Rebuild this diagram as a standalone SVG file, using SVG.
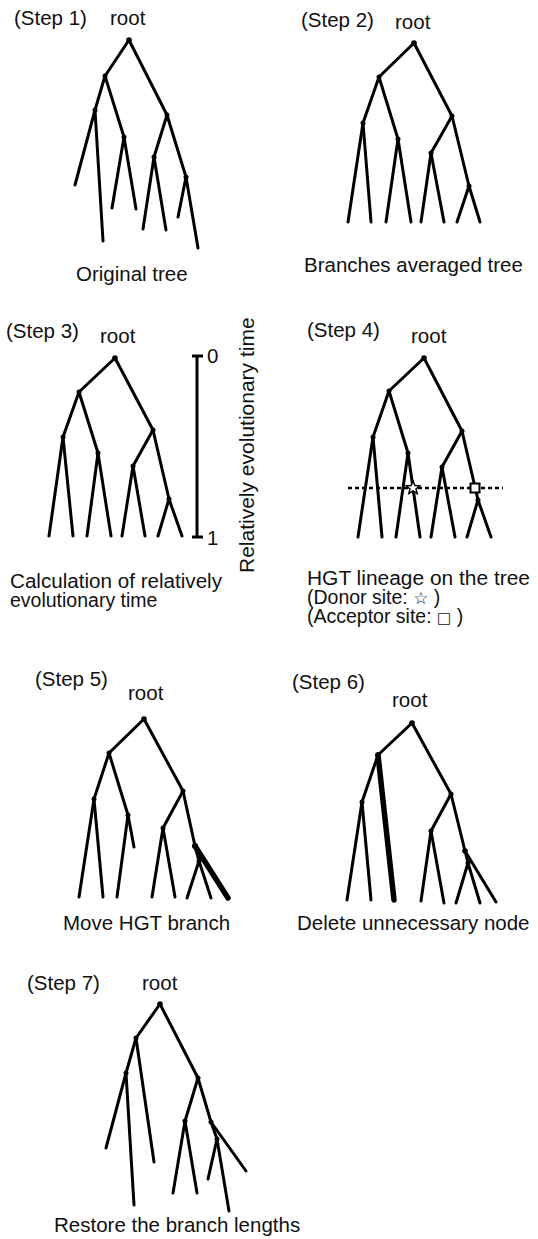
<svg xmlns="http://www.w3.org/2000/svg" width="538" height="1239" viewBox="0 0 538 1239">
<style>
text{font-family:"Liberation Sans",Arial,sans-serif;font-size:20.5px;fill:#111}
.cap{font-size:19.5px}
.e line{stroke:#000;stroke-width:3;stroke-linecap:round}
.thick{stroke-width:5.5 !important}
.n circle{fill:#000}
</style>
<rect width="538" height="1239" fill="#fff"/>

<g id="step1">
<text x="14" y="25">(Step 1)</text>
<text x="110" y="25">root</text>
<text x="76" y="281">Original tree</text>
<g class="e" id="step1-edges">
<line x1="129" y1="40" x2="105" y2="76"/><line x1="129" y1="40" x2="167" y2="115"/>
<line x1="105" y1="76" x2="95" y2="110"/><line x1="105" y1="76" x2="124" y2="137"/>
<line x1="95" y1="110" x2="75" y2="185"/><line x1="95" y1="110" x2="103" y2="241"/>
<line x1="124" y1="137" x2="112" y2="208"/><line x1="124" y1="137" x2="136" y2="209"/>
<line x1="167" y1="115" x2="154" y2="157"/><line x1="167" y1="115" x2="186" y2="177"/>
<line x1="154" y1="157" x2="143" y2="229"/><line x1="154" y1="157" x2="166" y2="230"/>
<line x1="186" y1="177" x2="178" y2="217"/><line x1="186" y1="177" x2="198" y2="248"/>
</g>
<g class="n">
<g id="s1-root"><circle cx="129" cy="40" r="2.8"/></g>
<g id="s1-a"><circle cx="105" cy="76" r="2.5"/></g>
<g id="s1-b"><circle cx="167" cy="115" r="2.5"/></g>
<g id="s1-aa"><circle cx="95" cy="110" r="2.5"/></g>
<g id="s1-ab"><circle cx="124" cy="137" r="2.5"/></g>
<g id="s1-ba"><circle cx="154" cy="157" r="2.5"/></g>
<g id="s1-bb"><circle cx="186" cy="177" r="2.5"/></g>
</g>
</g>

<g id="step2">
<text x="301" y="27">(Step 2)</text>
<text x="395" y="29">root</text>
<text x="304" y="272">Branches averaged tree</text>
<g class="e" id="step2-edges">
<line x1="414" y1="43" x2="379" y2="77"/><line x1="414" y1="43" x2="452" y2="116"/>
<line x1="379" y1="77" x2="363" y2="123"/><line x1="379" y1="77" x2="398" y2="139"/>
<line x1="363" y1="123" x2="348" y2="222"/><line x1="363" y1="123" x2="371" y2="222"/>
<line x1="398" y1="139" x2="386" y2="222"/><line x1="398" y1="139" x2="411" y2="222"/>
<line x1="452" y1="116" x2="431" y2="153"/><line x1="452" y1="116" x2="469" y2="186"/>
<line x1="431" y1="153" x2="421" y2="222"/><line x1="431" y1="153" x2="444" y2="222"/>
<line x1="469" y1="186" x2="457" y2="222"/><line x1="469" y1="186" x2="480" y2="222"/>
</g>
<g class="n">
<g id="s2-root"><circle cx="414" cy="43" r="2.8"/></g>
<g id="s2-a"><circle cx="379" cy="77" r="2.5"/></g>
<g id="s2-b"><circle cx="452" cy="116" r="2.5"/></g>
<g id="s2-aa"><circle cx="363" cy="123" r="2.5"/></g>
<g id="s2-ab"><circle cx="398" cy="139" r="2.5"/></g>
<g id="s2-ba"><circle cx="431" cy="153" r="2.5"/></g>
<g id="s2-bb"><circle cx="469" cy="186" r="2.5"/></g>
</g>
</g>

<g id="step3">
<text x="6" y="338">(Step 3)</text>
<text x="100" y="343">root</text>
<text class="cap" x="10" y="588" textLength="212" lengthAdjust="spacingAndGlyphs">Calculation of relatively</text>
<text class="cap" x="10" y="607">evolutionary time</text>
<g id="s3-scale">
<line x1="197" y1="356" x2="197" y2="537" stroke="#000" stroke-width="3"/>
<line x1="192" y1="356" x2="203" y2="356" stroke="#000" stroke-width="3"/>
<line x1="192" y1="537" x2="203" y2="537" stroke="#000" stroke-width="3"/>
<text x="207" y="363">0</text>
<text x="207" y="545">1</text>
<text transform="translate(254,573) rotate(-90)" style="font-size:21px">Relatively evolutionary time</text>
</g>
<g class="e" id="step3-edges">
<line x1="115" y1="358" x2="79" y2="392"/><line x1="115" y1="358" x2="153" y2="430"/>
<line x1="79" y1="392" x2="63" y2="437"/><line x1="79" y1="392" x2="98" y2="453"/>
<line x1="63" y1="437" x2="49" y2="536"/><line x1="63" y1="437" x2="73" y2="536"/>
<line x1="98" y1="453" x2="87" y2="536"/><line x1="98" y1="453" x2="111" y2="536"/>
<line x1="153" y1="430" x2="133" y2="466"/><line x1="153" y1="430" x2="169" y2="499"/>
<line x1="133" y1="466" x2="122" y2="536"/><line x1="133" y1="466" x2="145" y2="536"/>
<line x1="169" y1="499" x2="158" y2="536"/><line x1="169" y1="499" x2="182" y2="536"/>
</g>
<g class="n">
<g id="s3-root"><circle cx="115" cy="358" r="2.8"/></g>
<g id="s3-a"><circle cx="79" cy="392" r="2.5"/></g>
<g id="s3-b"><circle cx="153" cy="430" r="2.5"/></g>
<g id="s3-aa"><circle cx="63" cy="437" r="2.5"/></g>
<g id="s3-ab"><circle cx="98" cy="453" r="2.5"/></g>
<g id="s3-ba"><circle cx="133" cy="466" r="2.5"/></g>
<g id="s3-bb"><circle cx="169" cy="499" r="2.5"/></g>
</g>
</g>

<g id="step4">
<text x="307" y="337">(Step 4)</text>
<text x="411" y="343">root</text>
<text class="cap" x="307" y="585" textLength="223" lengthAdjust="spacingAndGlyphs">HGT lineage on the tree</text>
<text class="cap" x="307" y="604">(Donor site: <tspan style="font-family:'DejaVu Sans',sans-serif;font-size:17px">☆</tspan> )</text>
<text class="cap" x="307" y="623">(Acceptor site: <tspan style="font-family:'DejaVu Sans',sans-serif;font-size:15px">□</tspan> )</text>
<g class="e" id="step4-edges">
<line x1="424" y1="358" x2="389" y2="391"/><line x1="424" y1="358" x2="462" y2="431"/>
<line x1="389" y1="391" x2="373" y2="437"/><line x1="389" y1="391" x2="408" y2="453"/>
<line x1="373" y1="437" x2="358" y2="537"/><line x1="373" y1="437" x2="382" y2="537"/>
<line x1="408" y1="453" x2="396" y2="537"/><line x1="408" y1="453" x2="420" y2="537"/>
<line x1="462" y1="431" x2="442" y2="467"/><line x1="462" y1="431" x2="478" y2="500"/>
<line x1="442" y1="467" x2="431" y2="537"/><line x1="442" y1="467" x2="455" y2="537"/>
<line x1="478" y1="500" x2="467" y2="537"/><line x1="478" y1="500" x2="491" y2="537"/>
</g>
<line id="s4-hgt-line" x1="348" y1="488" x2="503" y2="488" stroke="#000" stroke-width="2.5" stroke-dasharray="4 3"/>
<g class="n">
<g id="s4-root"><circle cx="424" cy="358" r="2.8"/></g>
<g id="s4-a"><circle cx="389" cy="391" r="2.5"/></g>
<g id="s4-b"><circle cx="462" cy="431" r="2.5"/></g>
<g id="s4-aa"><circle cx="373" cy="437" r="2.5"/></g>
<g id="s4-ab"><circle cx="408" cy="453" r="2.5"/></g>
<g id="s4-ba"><circle cx="442" cy="467" r="2.5"/></g>
<g id="s4-bb"><circle cx="478" cy="500" r="2.5"/></g>
</g>
<g id="s4-donor"><polygon points="413,481 414.9,485.6 419.7,485.8 416,488.9 417.2,493.6 413,490.9 408.8,493.6 410,488.9 406.3,485.8 411.1,485.6" fill="#fff" stroke="#000" stroke-width="1.5"/></g>
<g id="s4-acceptor"><rect x="470.5" y="483.5" width="9" height="9" fill="#fff" stroke="#000" stroke-width="2"/></g>
</g>

<g id="step5">
<text x="35" y="686">(Step 5)</text>
<text x="128" y="700">root</text>
<text x="63" y="930">Move HGT branch</text>
<g class="e" id="step5-edges">
<line x1="144" y1="719" x2="109" y2="753"/><line x1="144" y1="719" x2="183" y2="791"/>
<line x1="109" y1="753" x2="94" y2="799"/><line x1="109" y1="753" x2="128" y2="815"/>
<line x1="94" y1="799" x2="79" y2="897"/><line x1="94" y1="799" x2="103" y2="897"/>
<line x1="128" y1="815" x2="117" y2="897"/><line x1="128" y1="815" x2="134" y2="847"/>
<line x1="183" y1="791" x2="163" y2="828"/><line x1="183" y1="791" x2="195" y2="846"/>
<line x1="163" y1="828" x2="152" y2="897"/><line x1="163" y1="828" x2="175" y2="897"/>
<line x1="195" y1="846" x2="199" y2="861"/>
<line x1="199" y1="861" x2="187" y2="898"/><line x1="199" y1="861" x2="211" y2="898"/>
<line class="thick" x1="195" y1="846" x2="228" y2="898"/>
</g>
<g class="n">
<g id="s5-root"><circle cx="144" cy="719" r="2.8"/></g>
<g id="s5-a"><circle cx="109" cy="753" r="2.5"/></g>
<g id="s5-b"><circle cx="183" cy="791" r="2.5"/></g>
<g id="s5-aa"><circle cx="94" cy="799" r="2.5"/></g>
<g id="s5-ab"><circle cx="128" cy="815" r="2.5"/></g>
<g id="s5-ba"><circle cx="163" cy="828" r="2.5"/></g>
<g id="s5-new"><circle cx="195" cy="846" r="3"/></g>
<g id="s5-bb"><circle cx="199" cy="861" r="2.5"/></g>
</g>
</g>

<g id="step6">
<text x="292" y="689">(Step 6)</text>
<text x="392" y="707">root</text>
<text x="297" y="930">Delete unnecessary node</text>
<g class="e" id="step6-edges">
<line x1="412" y1="723" x2="378" y2="755"/><line x1="412" y1="723" x2="451" y2="794"/>
<line x1="378" y1="755" x2="362" y2="802"/>
<line class="thick" x1="378" y1="755" x2="394" y2="900"/>
<line x1="362" y1="802" x2="347" y2="900"/><line x1="362" y1="802" x2="371" y2="900"/>
<line x1="451" y1="794" x2="431" y2="831"/><line x1="451" y1="794" x2="465" y2="851"/>
<line x1="431" y1="831" x2="421" y2="901"/><line x1="431" y1="831" x2="444" y2="903"/>
<line x1="465" y1="851" x2="468" y2="863"/>
<line x1="468" y1="863" x2="456" y2="903"/><line x1="468" y1="863" x2="480" y2="903"/>
<line x1="465" y1="851" x2="496" y2="902"/>
</g>
<g class="n">
<g id="s6-root"><circle cx="412" cy="723" r="2.8"/></g>
<g id="s6-a"><circle cx="378" cy="755" r="2.8"/></g>
<g id="s6-b"><circle cx="451" cy="794" r="2.5"/></g>
<g id="s6-aa"><circle cx="362" cy="802" r="2.5"/></g>
<g id="s6-ba"><circle cx="431" cy="831" r="2.5"/></g>
<g id="s6-new"><circle cx="465" cy="851" r="2.8"/></g>
<g id="s6-bb"><circle cx="468" cy="863" r="2.5"/></g>
</g>
</g>

<g id="step7">
<text x="27" y="990">(Step 7)</text>
<text x="142" y="990">root</text>
<text x="54" y="1232">Restore the branch lengths</text>
<g class="e" id="step7-edges">
<line x1="160" y1="1004" x2="136" y2="1038"/><line x1="160" y1="1004" x2="198" y2="1078"/>
<line x1="136" y1="1038" x2="126" y2="1073"/><line x1="136" y1="1038" x2="154" y2="1162"/>
<line x1="126" y1="1073" x2="106" y2="1148"/><line x1="126" y1="1073" x2="134" y2="1205"/>
<line x1="198" y1="1078" x2="185" y2="1121"/><line x1="198" y1="1078" x2="211" y2="1122"/>
<line x1="185" y1="1121" x2="173" y2="1193"/><line x1="185" y1="1121" x2="197" y2="1193"/>
<line x1="211" y1="1122" x2="246" y2="1171"/><line x1="211" y1="1122" x2="217" y2="1139"/>
<line x1="217" y1="1139" x2="208" y2="1179"/><line x1="217" y1="1139" x2="229" y2="1211"/>
</g>
<g class="n">
<g id="s7-root"><circle cx="160" cy="1004" r="2.8"/></g>
<g id="s7-a"><circle cx="136" cy="1038" r="2.5"/></g>
<g id="s7-b"><circle cx="198" cy="1078" r="2.5"/></g>
<g id="s7-aa"><circle cx="126" cy="1073" r="2.5"/></g>
<g id="s7-ba"><circle cx="185" cy="1121" r="2.5"/></g>
<g id="s7-new"><circle cx="211" cy="1122" r="2.5"/></g>
<g id="s7-bb"><circle cx="217" cy="1139" r="2.5"/></g>
</g>
</g>
</svg>
